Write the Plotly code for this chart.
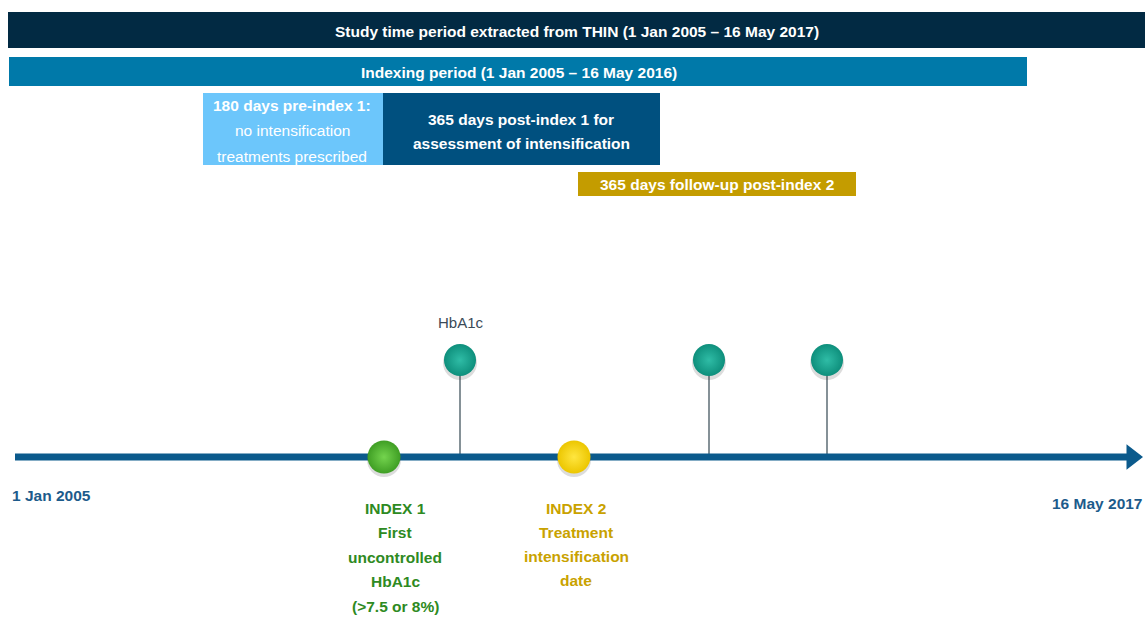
import plotly.graph_objects as go

# ---- data (diagram units: horizontal position along the layout, vertical row) ----
bar_names = ["Study time period", "Indexing period", "Pre-index 1",
             "Post-index 1", "Follow-up post-index 2"]
bar_start = [8, 9, 203, 383, 578]
bar_end = [1145, 1027, 383, 660, 856]
bar_row = [30, 71.5, 129, 129, 184]
bar_thick = [36, 29, 72, 72, 24]
bar_colors = ["#022a43", "#0079a9", "#6cc6fb", "#00507f", "#c49c00"]

# text blocks: lines, centre x, first line y, line step
bar_text_lines = [
    ["<b>Study time period extracted from THIN (1 Jan 2005 – 16 May 2017)</b>"],
    ["<b>Indexing period (1 Jan 2005 – 16 May 2016)</b>"],
    ["<b>180 days pre-index 1:</b>", "no intensification", "treatments prescribed"],
    ["<b>365 days post-index 1 for</b>", "<b>assessment of intensification</b>"],
    ["<b>365 days follow-up post-index 2</b>"],
]
bar_text_x = [577, 519, 292, 521, 717]
bar_text_y0 = [31, 72, 105, 119, 184]
bar_text_step = [0, 0, 25.5, 24.5, 0]

timeline_start, timeline_end = 15, 1127
timeline_row = 457
date_labels = ["<b>1 Jan 2005</b>", "<b>16 May 2017</b>"]
date_x = [51, 1097]
date_y = [495, 503]

index_x = [384, 574]
index_marker_colors = ["#3f9e24", "#ecc600"]
index_marker_light = ["#74d44e", "#ffe640"]
index_text_lines = [
    ["<b>INDEX 1</b>", "<b>First</b>", "<b>uncontrolled</b>", "<b>HbA1c</b>", "<b>(>7.5 or 8%)</b>"],
    ["<b>INDEX 2</b>", "<b>Treatment</b>", "<b>intensification</b>", "<b>date</b>"],
]
index_text_x = [395, 576]
index_text_y0 = [508, 508]
index_text_step = [24.5, 24.3]
index_text_colors = ["#2e8a22", "#c9a200"]

hba1c_x = [460, 709, 827]
hba1c_row = 360
hba1c_label = "HbA1c"

FONT = "Liberation Sans, Arial, sans-serif"
FS = 15.5

fig = go.Figure()

fig.add_trace(go.Bar(
    orientation="h",
    base=bar_start,
    x=[e - s for s, e in zip(bar_start, bar_end)],
    y=bar_row,
    width=bar_thick,
    marker=dict(color=bar_colors, line=dict(width=0)),
    text=bar_names,
    textposition="none",
    hoverinfo="skip",
    showlegend=False,
))

# stems of HbA1c pins
sx, sy = [], []
for x in hba1c_x:
    sx += [x, x, None]
    sy += [hba1c_row, timeline_row, None]
fig.add_trace(go.Scatter(
    x=sx, y=sy, mode="lines",
    line=dict(color="#5d6d75", width=1.5),
    hoverinfo="skip", showlegend=False,
))

# timeline with arrow head
fig.add_trace(go.Scatter(
    x=[timeline_start, timeline_end], y=[timeline_row, timeline_row],
    mode="lines", line=dict(color="#0b5a8c", width=7),
    hoverinfo="skip", showlegend=False,
))
fig.add_trace(go.Scatter(
    x=[timeline_end + 5], y=[timeline_row],
    mode="markers",
    marker=dict(symbol="triangle-right", size=22, color="#0b5a8c", line=dict(width=0)),
    hoverinfo="skip", showlegend=False,
))

# shadows under the balls
fig.add_trace(go.Scatter(
    x=hba1c_x + index_x,
    y=[hba1c_row + 3] * len(hba1c_x) + [timeline_row + 3] * len(index_x),
    mode="markers",
    marker=dict(size=34, color="rgba(60,60,60,0.18)", line=dict(width=0)),
    hoverinfo="skip", showlegend=False,
))

# HbA1c pins
fig.add_trace(go.Scatter(
    x=hba1c_x, y=[hba1c_row] * len(hba1c_x),
    mode="markers",
    marker=dict(size=32, color="#0e8f7c",
                gradient=dict(type="radial", color="#2fbca6"),
                line=dict(width=0)),
    hoverinfo="skip", showlegend=False,
))

# index markers
fig.add_trace(go.Scatter(
    x=index_x, y=[timeline_row] * len(index_x),
    mode="markers",
    marker=dict(size=33, color=index_marker_colors,
                gradient=dict(type="radial", color=index_marker_light),
                line=dict(width=0)),
    hoverinfo="skip", showlegend=False,
))

annotations = []
for lines, x, y0, step in zip(bar_text_lines, bar_text_x, bar_text_y0, bar_text_step):
    for k, t in enumerate(lines):
        annotations.append(dict(x=x, y=y0 + k * step, text=t, showarrow=False,
                                font=dict(family=FONT, size=FS, color="white")))
annotations.append(dict(x=hba1c_x[0] + 1, y=322, text=hba1c_label, showarrow=False,
                        font=dict(family=FONT, size=15, color="#3b4a58")))
annotations.append(dict(x=date_x[0], y=date_y[0], text=date_labels[0], showarrow=False,
                        font=dict(family=FONT, size=FS, color="#1d5b8b")))
annotations.append(dict(x=date_x[1], y=date_y[1], text=date_labels[1], showarrow=False,
                        font=dict(family=FONT, size=FS, color="#1d5b8b")))
for lines, x, y0, step, c in zip(index_text_lines, index_text_x, index_text_y0,
                                  index_text_step, index_text_colors):
    for k, t in enumerate(lines):
        annotations.append(dict(x=x, y=y0 + k * step, text=t, showarrow=False,
                                font=dict(family=FONT, size=FS, color=c)))

fig.update_layout(
    width=1145, height=617,
    margin=dict(l=0, r=0, t=0, b=0),
    paper_bgcolor="white", plot_bgcolor="white",
    xaxis=dict(range=[0, 1145], visible=False, fixedrange=True),
    yaxis=dict(range=[617, 0], visible=False, fixedrange=True),
    annotations=annotations,
    bargap=0,
)

fig.write_html("out.html", config={"displayModeBar": False},
               post_script="document.body.style.margin='0';")
